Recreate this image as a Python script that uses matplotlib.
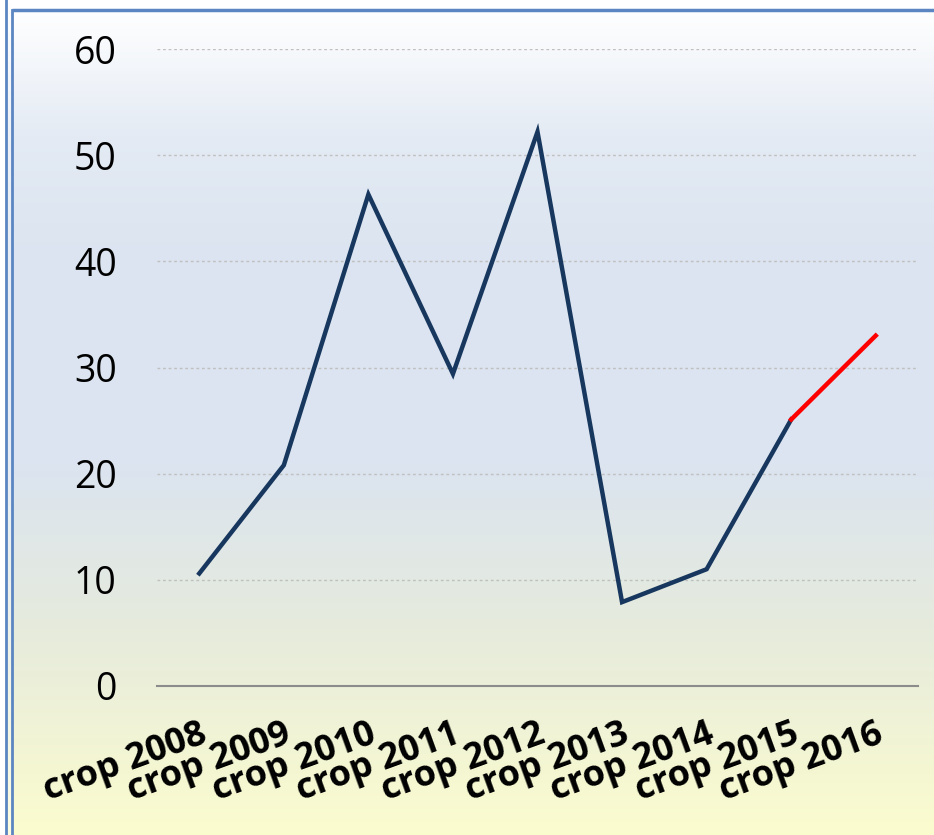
import matplotlib.pyplot as plt
import numpy as np
from matplotlib.colors import LinearSegmentedColormap

crops = ['crop 2008', 'crop 2009', 'crop 2010', 'crop 2011', 'crop 2012',
         'crop 2013', 'crop 2014', 'crop 2015', 'crop 2016']
values = [10.6, 20.8, 46.3, 29.4, 52.2, 7.9, 11.0, 25.1, 33.0]
yticks = [0, 10, 20, 30, 40, 50, 60]

W, H = 934, 835
fig = plt.figure(figsize=(W / 100, H / 100), dpi=100, facecolor='white')

# background gradient panel (figure pixel coords)
bg = fig.add_axes([0, 0, 1, 1])
bg.set_xlim(0, W)
bg.set_ylim(H, 0)
bg.axis('off')
cmap = LinearSegmentedColormap.from_list('bg', [
    (0.0, '#ffffff'), (0.15, '#e4ebf4'), (0.3, '#dbe4f0'), (0.55, '#dbe4f0'),
    (0.75, '#e6ebdd'), (1.0, '#fbfcce')])
grad = np.linspace(0, 1, 256).reshape(-1, 1)
bg.imshow(grad, cmap=cmap, aspect='auto', extent=[12, W, H, 10], zorder=0)
bg.imshow(grad, cmap=cmap, aspect='auto', extent=[6, 12, H, 0], zorder=0, alpha=0.6)
bg.plot([12, W], [10, 10], color='#5b86c2', lw=2.5, solid_capstyle='butt')
bg.plot([12, 12], [10, H], color='#5b86c2', lw=2.0)
bg.plot([6, 6], [0, H], color='#5b86c2', lw=2.0)

ax = fig.add_axes([157 / W, (H - 686) / H, (918 - 157) / W, (686 - 49) / H])
ax.patch.set_alpha(0)
x = np.arange(len(crops))
ax.plot(x[:-1], values[:-1], color='#17375e', lw=3.2, solid_joinstyle='miter', zorder=3)
ax.plot(x[-2:], values[-2:], color='#ff0000', lw=3.2, zorder=3)

ax.set_xlim(-0.5, len(crops) - 0.5)
ax.set_ylim(0, 60)
ax.set_yticks(yticks)
ax.set_yticklabels([str(v) for v in yticks], fontsize=27, family='Open Sans')
ax.tick_params(axis='y', length=0, pad=29)
ax.set_xticks(x)
ax.set_xticklabels(crops, rotation=20, ha='right', va='top', rotation_mode='anchor',
                   fontsize=26, fontweight='bold', family='Open Sans')
ax.tick_params(axis='x', length=0, pad=22)
for s in ['top', 'right', 'left']:
    ax.spines[s].set_visible(False)
ax.spines['bottom'].set_color('#8c8c8c')
ax.spines['bottom'].set_linewidth(1.5)
ax.grid(axis='y', color='#c0c0c0', linestyle=(0, (2, 2)), lw=1)
ax.set_axisbelow(True)

fig.savefig('out.png', dpi=100)
